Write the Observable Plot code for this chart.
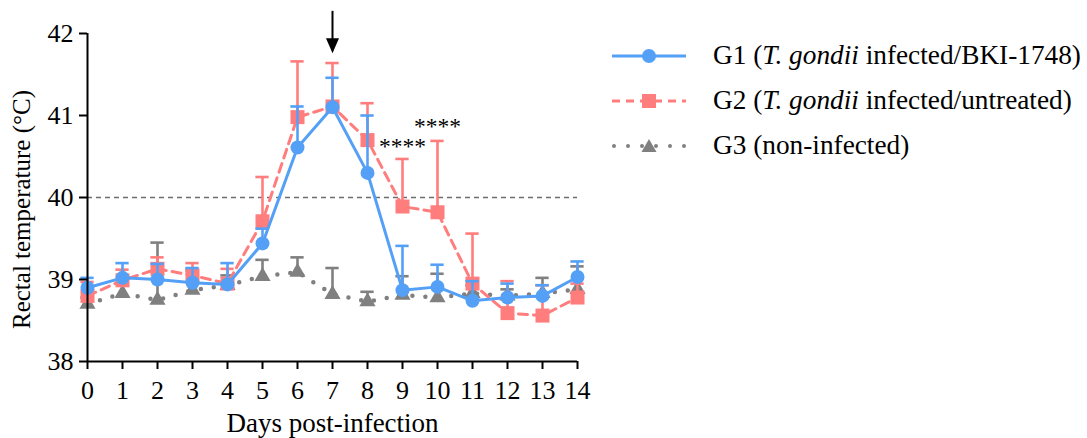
<!DOCTYPE html>
<html>
<head>
<meta charset="utf-8">
<script src="https://cdn.jsdelivr.net/npm/d3@7"></script>
<script src="https://cdn.jsdelivr.net/npm/@observablehq/plot@0.6"></script>
<style>
  html, body { margin: 0; padding: 0; background: #fff; }
  #wrap { position: relative; width: 1087px; height: 438px; font-family: "Liberation Serif", "Times New Roman", serif; }
  #legend { position: absolute; left: 610px; top: 33px; }
  .row { display: flex; align-items: center; height: 45px; font-size: 27.3px; color: #000; white-space: nowrap; }
  .row svg { margin-right: 25px; }
</style>
</head>
<body>
<div id="wrap">
  <div id="chart"></div>
  <div id="legend"></div>
</div>
<script>
// ---- data ----
const days = [0,1,2,3,4,5,6,7,8,9,10,11,12,13,14];
const g1Mean = [38.90,39.02,39.00,38.96,38.94,39.44,40.61,41.10,40.30,38.87,38.91,38.74,38.78,38.80,39.03];
const g1Top  = [39.02,39.20,39.19,39.14,39.20,39.62,41.11,41.46,41.00,39.41,39.18,38.98,38.95,38.93,39.22];
const g2Mean = [38.80,38.99,39.13,39.05,38.95,39.71,40.98,41.11,40.70,39.89,39.82,38.95,38.59,38.56,38.78];
const g2Top  = [38.97,39.12,39.27,39.20,39.13,40.25,41.66,41.64,41.15,40.47,40.69,39.56,38.98,38.93,38.95];
const g3Mean = [38.70,38.83,38.75,38.87,38.93,39.04,39.09,38.82,38.73,38.81,38.78,38.83,38.80,38.83,38.88];
const g3Top  = [38.78,38.95,39.45,39.11,39.05,39.24,39.27,39.14,38.85,39.04,39.07,38.93,38.88,39.02,39.16];
const groupNames = ["G1", "G2", "G3"];
const groupLabels = [
  ["G1 (", "T. gondii", " infected/BKI-1748)"],
  ["G2 (", "T. gondii", " infected/untreated)"],
  ["G3 (non-infected)", "", ""]
];
const threshold = 40;
const sigDays = [9, 10];
const sigY = [40.62, 40.87];
const sigText = "****";
const arrowDay = 7, arrowTop = 42.27, arrowTip = 41.76;
const xTicks = days;
const yTicks = [38, 39, 40, 41, 42];
const xLabel = "Days post-infection";
const yLabel = "Rectal temperature (°C)";

const colors = {G1: "#55a0f7", G2: "#ff7d7d", G3: "#808080"};

function rows(mean, top, g) {
  return days.map((d, i) => ({day: d, mean: mean[i], top: top[i], group: g}));
}
const g1 = rows(g1Mean, g1Top, "G1");
const g2 = rows(g2Mean, g2Top, "G2");
const g3 = rows(g3Mean, g3Top, "G3");

const capHalf = 0.19;
function errorMarks(data, color) {
  return [
    Plot.ruleX(data, {x: "day", y1: "mean", y2: "top", stroke: color, strokeWidth: 2.6}),
    Plot.ruleY(data, {y: "top", x1: d => d.day - capHalf, x2: d => d.day + capHalf, stroke: color, strokeWidth: 2.6})
  ];
}

const downTri = {
  draw(ctx, size) {
    ctx.moveTo(0, 0);
    ctx.lineTo(-6.5, -15);
    ctx.lineTo(6.5, -15);
    ctx.closePath();
  }
};

const font = '"Liberation Serif", "Times New Roman", serif';

const chart = Plot.plot({
  width: 1087,
  height: 438,
  marginLeft: 87,
  marginRight: 510,
  marginTop: 33,
  marginBottom: 77,
  style: {fontFamily: font, fontSize: "26px", color: "#000", background: "transparent", overflow: "visible"},
  x: {domain: [0, 14]},
  y: {domain: [38, 42]},
  marks: [
    Plot.ruleY([threshold], {stroke: "#6e6e6e", strokeWidth: 1.4, strokeDasharray: "5,4"}),
    // G3
    ...errorMarks(g3, colors.G3),
    Plot.line(g3, {x: "day", y: "mean", stroke: colors.G3, strokeWidth: 4.5, strokeDasharray: "0,13", strokeLinecap: "round"}),
    Plot.dot(g3, {x: "day", y: "mean", symbol: "triangle", r: 6, fill: colors.G3}),
    // G2
    ...errorMarks(g2, colors.G2),
    Plot.line(g2, {x: "day", y: "mean", stroke: colors.G2, strokeWidth: 3, strokeDasharray: "9,6"}),
    Plot.dot(g2, {x: "day", y: "mean", symbol: "square", r: 7.9, fill: colors.G2}),
    // G1
    ...errorMarks(g1, colors.G1),
    Plot.line(g1, {x: "day", y: "mean", stroke: colors.G1, strokeWidth: 3}),
    Plot.dot(g1, {x: "day", y: "mean", symbol: "circle", r: 7, fill: colors.G1}),
    // significance
    Plot.text(sigDays, {x: d => d, y: (d, i) => sigY[i], text: () => sigText, fontSize: 23.5, fontFamily: font, fill: "#000"}),
    // arrow
    Plot.ruleX([arrowDay], {y1: arrowTop, y2: arrowTip + 0.1, stroke: "#000", strokeWidth: 2}),
    Plot.dot([arrowDay], {x: d => d, y: arrowTip, symbol: downTri, fill: "#000", r: 5}),
    // axes
    Plot.axisY({ticks: yTicks, tickFormat: d3.format("d"), tickSize: 8, tickPadding: 6, label: null, fontSize: 26, strokeWidth: 2}),
    Plot.axisX({ticks: xTicks, tickFormat: d3.format("d"), tickSize: 8, tickPadding: 11, label: null, fontSize: 26, strokeWidth: 2}),
    Plot.ruleX([0], {stroke: "#000", strokeWidth: 2}),
    Plot.ruleY([38], {stroke: "#000", strokeWidth: 2}),
    Plot.text([yLabel], {frameAnchor: "left", textAnchor: "middle", dx: -66, dy: 12, rotate: -90, fontSize: 25, fontFamily: font, fill: "#000"}),
    Plot.text([xLabel], {frameAnchor: "bottom", dy: 70, fontSize: 27, fontFamily: font, fill: "#000"})
  ]
});
document.getElementById("chart").appendChild(chart);

// ---- legend ----
const legend = document.getElementById("legend");
const ns = "http://www.w3.org/2000/svg";
function sample(g) {
  const svg = document.createElementNS(ns, "svg");
  svg.setAttribute("width", 78); svg.setAttribute("height", 24);
  const line = document.createElementNS(ns, "line");
  line.setAttribute("x1", 2); line.setAttribute("x2", 76); line.setAttribute("y1", 12); line.setAttribute("y2", 12);
  line.setAttribute("stroke", colors[g]);
  if (g === "G1") { line.setAttribute("stroke-width", 3); }
  if (g === "G2") { line.setAttribute("stroke-width", 3); line.setAttribute("stroke-dasharray", "8,6"); }
  if (g === "G3") { line.setAttribute("stroke-width", 4); line.setAttribute("stroke-dasharray", "0,14"); line.setAttribute("stroke-linecap", "round"); line.setAttribute("x1", 4); }
  svg.appendChild(line);
  let m;
  if (g === "G1") { m = document.createElementNS(ns, "circle"); m.setAttribute("cx", 39); m.setAttribute("cy", 12); m.setAttribute("r", 7); }
  if (g === "G2") { m = document.createElementNS(ns, "rect"); m.setAttribute("x", 32); m.setAttribute("y", 5); m.setAttribute("width", 14); m.setAttribute("height", 14); }
  if (g === "G3") { m = document.createElementNS(ns, "path"); m.setAttribute("d", "M39,5 L46.5,18 L31.5,18 Z"); }
  m.setAttribute("fill", colors[g]);
  svg.appendChild(m);
  return svg;
}
groupNames.forEach((g, i) => {
  const row = document.createElement("div");
  row.className = "row";
  row.appendChild(sample(g));
  const span = document.createElement("span");
  const [a, b, c] = groupLabels[i];
  span.appendChild(document.createTextNode(a));
  if (b) { const em = document.createElement("i"); em.textContent = b; span.appendChild(em); }
  if (c) span.appendChild(document.createTextNode(c));
  row.appendChild(span);
  legend.appendChild(row);
});
</script>
</body>
</html>
